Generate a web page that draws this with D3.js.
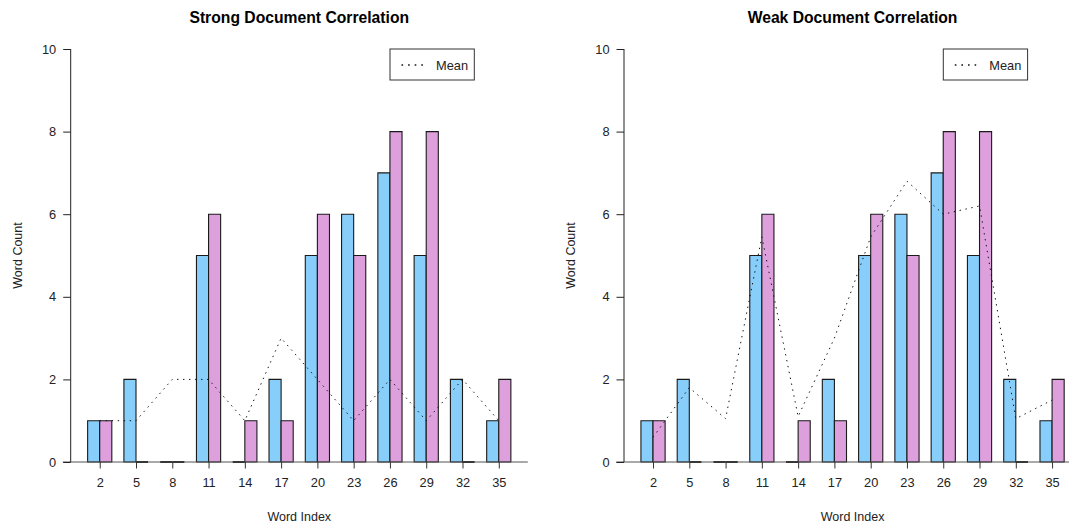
<!DOCTYPE html>
<html>
<head>
<meta charset="utf-8">
<script src="https://cdn.jsdelivr.net/npm/d3@7"></script>
<style>
  html, body { margin: 0; padding: 0; background: #fff; }
  svg { display: block; font-family: "Liberation Sans", Arial, sans-serif; }
</style>
</head>
<body>
<svg id="chart" width="1069" height="524"></svg>
<script>
// Word index labels (bar-pair midpoints) and counts for the two documents
const wordIndex = [2, 5, 8, 11, 14, 17, 20, 23, 26, 29, 32, 35];
const docA = [1, 2, 0, 5, 0, 2, 5, 6, 7, 5, 2, 1];
const docB = [1, 0, 0, 6, 1, 1, 6, 5, 8, 8, 0, 2];

// Mean word counts over the comparison corpus
const meanStrong = [1, 1, 2, 2, 1, 3, 2, 1, 2, 1, 2, 1];
const meanWeak = [0.6, 1.8, 1.05, 5.45, 1.1, 3.0, 5.45, 6.8, 6.0, 6.2, 1.05, 1.5];

const yTicks = [0, 2, 4, 6, 8, 10];

const panels = [
  { title: "Strong Document Correlation", mean: meanStrong, dx: 0 },
  { title: "Weak Document Correlation", mean: meanWeak, dx: 553.3 }
];

const colA = "#87CEFA";
const colB = "#DDA0DD";

const svg = d3.select("#chart");

// barplot layout: each bar is 1 unit wide, pairs separated by 1 unit
const x = d3.scaleLinear().domain([-0.4, 37.4]).range([70.7, 527.8]);
const y = d3.scaleLinear().domain([0, 10]).range([462, 49]);

function barPath(x0, x1, v) {
  const y0 = y(0), y1 = y(v);
  return `M${x0},${y0}V${y1}H${x1}V${y0}Z`;
}

panels.forEach(p => {
  const g = svg.append("g").attr("transform", `translate(${p.dx},0)`);

  // title
  g.append("text")
    .attr("x", (x.range()[0] + x.range()[1]) / 2)
    .attr("y", 23)
    .attr("text-anchor", "middle")
    .attr("font-weight", "bold")
    .attr("font-size", "15.7px")
    .attr("fill", "#000")
    .text(p.title);

  // bars: document A (blue) then document B (pink) for each word index
  const bars = [];
  wordIndex.forEach((w, i) => {
    bars.push({ x0: w - 1, x1: w, v: docA[i], c: colA });
    bars.push({ x0: w, x1: w + 1, v: docB[i], c: colB });
  });
  g.append("g").selectAll("path")
    .data(bars)
    .join("path")
    .attr("d", d => barPath(x(d.x0), x(d.x1), d.v))
    .attr("fill", d => d.c)
    .attr("stroke", "#1a1a1a")
    .attr("stroke-width", d => d.v === 0 ? 1.8 : 1.1);

  // baseline
  g.append("line")
    .attr("x1", x(-1.05)).attr("x2", x(37.4))
    .attr("y1", y(0)).attr("y2", y(0))
    .attr("stroke", "#555").attr("stroke-width", 1.2);

  // x axis: ticks at each pair midpoint
  const xAxis = d3.axisBottom(x)
    .tickValues(wordIndex)
    .tickFormat(d3.format("d"))
    .tickSize(6.5)
    .tickPadding(9);
  const gx = g.append("g")
    .attr("transform", `translate(0,${y(0)})`)
    .call(xAxis);
  gx.select(".domain").remove();
  gx.selectAll(".tick line").attr("stroke", "#333");
  gx.selectAll(".tick text")
    .attr("font-size", "12.8px")
    .attr("fill", "#222")
    .attr("font-family", "Liberation Sans, Arial, sans-serif");

  // y axis
  const yAxis = d3.axisLeft(y)
    .tickValues(yTicks)
    .tickSize(7.5)
    .tickPadding(7);
  const gy = g.append("g")
    .attr("transform", `translate(${x(-0.4)},0)`)
    .call(yAxis);
  gy.select(".domain")
    .attr("d", `M0,${y(10)}V${y(0)}`)
    .attr("stroke", "#222");
  gy.selectAll(".tick line").attr("stroke", "#222");
  gy.selectAll(".tick text")
    .attr("font-size", "12.8px")
    .attr("fill", "#222")
    .attr("font-family", "Liberation Sans, Arial, sans-serif");

  // axis titles
  g.append("text")
    .attr("x", (x.range()[0] + x.range()[1]) / 2)
    .attr("y", 521)
    .attr("text-anchor", "middle")
    .attr("font-size", "12.5px")
    .attr("fill", "#222")
    .text("Word Index");
  g.append("text")
    .attr("transform", `translate(21.5,255.5) rotate(-90)`)
    .attr("text-anchor", "middle")
    .attr("font-size", "12.5px")
    .attr("fill", "#222")
    .text("Word Count");

  // mean line
  const line = d3.line()
    .x((d, i) => x(wordIndex[i]))
    .y(d => y(d));
  g.append("path")
    .datum(p.mean)
    .attr("d", line)
    .attr("fill", "none")
    .attr("stroke", "#111")
    .attr("stroke-width", 1)
    .attr("stroke-dasharray", "1.4,4.6");

  // legend
  const lg = g.append("g");
  lg.append("rect")
    .attr("x", 390).attr("y", 49)
    .attr("width", 84.3).attr("height", 31)
    .attr("fill", "#fff")
    .attr("stroke", "#333").attr("stroke-width", 1);
  lg.append("line")
    .attr("x1", 401.5).attr("x2", 423)
    .attr("y1", 65).attr("y2", 65)
    .attr("stroke", "#111")
    .attr("stroke-width", 1.3)
    .attr("stroke-dasharray", "1.6,5");
  lg.append("text")
    .attr("x", 436).attr("y", 69.5)
    .attr("font-size", "12.8px")
    .attr("fill", "#222")
    .text("Mean");
});
</script>
</body>
</html>
